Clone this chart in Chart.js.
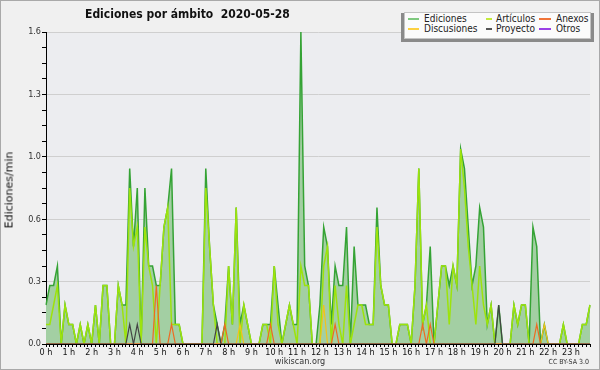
<!DOCTYPE html>
<html>
<head>
<meta charset="utf-8">
<script src="https://cdn.jsdelivr.net/npm/chart.js@4.4.1/dist/chart.umd.min.js"></script>
<style>
  html, body { margin: 0; padding: 0; background: #f0f0f0; }
  #wrap { position: relative; width: 600px; height: 370px; background: #f0f0f0; overflow: hidden;
    font-family: 'DejaVu Sans Condensed', 'DejaVu Sans', sans-serif; color: #222; }
  #grafico { position: absolute; left: 0; top: 0; }
  .marco { position: absolute; left: 0; top: 0; width: 600px; height: 370px; box-sizing: border-box;
    border: 1px solid #a9a9a9; pointer-events: none; }
  .titulo { position: absolute; left: 85px; top: 7px; font-weight: bold; font-size: 12px; line-height: 15px;
    white-space: pre; color: #111; }
  .eje-y { position: absolute; left: 9px; top: 190px; transform: translate(-50%, -50%) rotate(-90deg);
    font-family: 'DejaVu Sans', sans-serif; font-size: 11px; white-space: nowrap; color: #111; }
  .sombra { position: absolute; left: 401px; top: 13px; width: 193px; height: 29px; background: #8a8a8a; }
  .leyenda { position: absolute; left: 404px; top: 12px; width: 187px; height: 27px; background: #fbfbfb;
    border: 1px solid #c4c4c4; box-sizing: border-box; }
  .item { position: absolute; font-size: 10px; line-height: 10px; white-space: nowrap; color: #222; }
  .raya { position: absolute; height: 2px; }
  .pie { position: absolute; font-size: 9px; line-height: 10px; color: #333; white-space: nowrap; }
</style>
</head>
<body>
<div id="wrap">
  <canvas id="grafico" width="600" height="370"></canvas>
  <div class="titulo">Ediciones por ámbito  2020-05-28</div>
  <div class="eje-y">Ediciones/min</div>
  <div class="sombra"></div>
  <div class="leyenda"></div>
  <div class="raya" style="left:408px;top:18px;width:11px;background:#7fc97f"></div>
  <div class="item" style="left:424px;top:13.5px">Ediciones</div>
  <div class="raya" style="left:408px;top:28px;width:11px;background:#fcd040"></div>
  <div class="item" style="left:424px;top:23.5px">Discusiones</div>
  <div class="raya" style="left:486px;top:18px;width:6px;background:#c4ea3c"></div>
  <div class="item" style="left:496px;top:13.5px">Artículos</div>
  <div class="raya" style="left:486px;top:28px;width:6px;background:#555"></div>
  <div class="item" style="left:496px;top:23.5px">Proyecto</div>
  <div class="raya" style="left:539px;top:18px;width:12px;background:#f07438"></div>
  <div class="item" style="left:556px;top:13.5px">Anexos</div>
  <div class="raya" style="left:539px;top:28px;width:12px;background:#9a40e6"></div>
  <div class="item" style="left:556px;top:23.5px">Otros</div>
  <div class="pie" style="left:300px;top:356px;transform:translateX(-50%)">wikiscan.org</div>
  <div class="pie" style="right:11px;top:358px;font-size:7px;line-height:8px">CC BY-SA 3.0</div>
  <div class="marco"></div>
</div>
<script>
// franjas de 10 minutos
const franjas = Array.from({ length: 144 }, (_, i) =>
  String(Math.floor(i / 6)).padStart(2, '0') + ':' + String((i % 6) * 10).padStart(2, '0'))

const marcasY = [0, 0.08, 0.16, 0.24, 0.32, 0.4, 0.48, 0.56, 0.64, 0.72, 0.8,
  0.88, 0.96, 1.04, 1.12, 1.2, 1.28, 1.36, 1.44, 1.52, 1.6]

const ediciones = [
  0.2, 0.3, 0.3, 0.4, 0, 0.2, 0.1, 0.1, 0, 0.1, 0, 0.1,
  0, 0.2, 0, 0.3, 0.3, 0, 0, 0.3, 0.2, 0.2, 0.9, 0.5,
  0.8, 0, 0.8, 0.4, 0.4, 0.3, 0.3, 0.6, 0.7, 0.9, 0.1, 0.1,
  0, 0, 0, 0, 0, 0, 0.9, 0.5, 0.2, 0.1, 0, 0.1,
  0.4, 0.1, 0.7, 0.1, 0.2, 0.1, 0, 0, 0, 0.1, 0.1, 0.1,
  0.4, 0.2, 0, 0.1, 0.2, 0.1, 0.1, 1.6, 0.4, 0.3, 0, 0,
  0.2, 0.6, 0.5, 0.1, 0.4, 0.3, 0.3, 0.6, 0, 0.5, 0.2, 0.2,
  0.2, 0.1, 0.1, 0.7, 0.3, 0.2, 0.2, 0, 0, 0.1, 0.1, 0.1,
  0, 0.3, 0.9, 0.1, 0.2, 0.5, 0, 0.2, 0.4, 0.4, 0.3, 0.4,
  0.3, 1.0, 0.9, 0.6, 0.3, 0.4, 0.7, 0.6, 0.1, 0.2, 0, 0.2,
  0, 0, 0, 0.2, 0.1, 0.2, 0.2, 0, 0.6, 0.5, 0, 0.1,
  0, 0, 0, 0, 0.1, 0, 0, 0, 0, 0.1, 0.1, 0.2
]

const articulos = [
  0.1, 0.1, 0.2, 0.3, 0, 0.2, 0.1, 0.1, 0, 0.1, 0, 0.1,
  0, 0.2, 0, 0.3, 0.3, 0, 0, 0.3, 0.2, 0, 0.8, 0.5,
  0.6, 0, 0.6, 0.4, 0.3, 0, 0.3, 0.6, 0.7, 0.1, 0.1, 0.1,
  0, 0, 0, 0, 0, 0, 0.8, 0.5, 0.2, 0, 0, 0,
  0.4, 0.1, 0.7, 0, 0.2, 0.1, 0, 0, 0, 0.1, 0.1, 0,
  0.4, 0.1, 0, 0.1, 0.2, 0.1, 0, 0.4, 0.3, 0.3, 0, 0,
  0, 0.4, 0.5, 0, 0.3, 0.1, 0, 0.3, 0, 0.1, 0.2, 0.2,
  0.1, 0.1, 0.1, 0.6, 0.3, 0.2, 0.2, 0, 0, 0.1, 0.1, 0.1,
  0, 0.3, 0.9, 0.1, 0.2, 0, 0, 0.2, 0.4, 0.4, 0.1, 0.4,
  0.3, 1.0, 0.8, 0.5, 0.3, 0.1, 0.4, 0.2, 0.1, 0.2, 0, 0,
  0, 0, 0, 0.2, 0.1, 0.2, 0.2, 0, 0, 0, 0, 0,
  0, 0, 0, 0, 0.1, 0, 0, 0, 0, 0.1, 0.1, 0.2
]

const anexos = [
  0, 0, 0, 0, 0, 0, 0, 0, 0, 0, 0, 0,
  0, 0, 0, 0, 0, 0, 0, 0, 0, 0, 0, 0,
  0, 0, 0, 0, 0, 0.3, 0, 0, 0, 0.1, 0, 0,
  0, 0, 0, 0, 0, 0, 0, 0, 0, 0, 0, 0.1,
  0, 0, 0, 0, 0, 0, 0, 0, 0, 0, 0, 0.1,
  0, 0, 0, 0, 0, 0, 0, 0, 0, 0, 0, 0,
  0, 0, 0, 0, 0.1, 0, 0, 0, 0, 0, 0, 0,
  0, 0, 0, 0, 0, 0, 0, 0, 0, 0, 0, 0,
  0, 0, 0, 0.1, 0, 0.1, 0, 0, 0, 0, 0, 0,
  0, 0, 0, 0, 0, 0, 0, 0, 0, 0, 0, 0,
  0, 0, 0, 0, 0, 0, 0, 0, 0, 0.1, 0, 0,
  0, 0, 0, 0, 0, 0, 0, 0, 0, 0, 0, 0
]

const discusiones = [
  0, 0, 0, 0, 0, 0, 0, 0, 0, 0, 0, 0,
  0, 0, 0, 0, 0, 0, 0, 0, 0, 0, 0, 0,
  0, 0, 0, 0, 0, 0, 0, 0, 0, 0, 0, 0,
  0, 0, 0, 0, 0, 0, 0, 0, 0, 0, 0, 0,
  0, 0, 0, 0.1, 0, 0, 0, 0, 0, 0, 0, 0,
  0, 0, 0, 0, 0, 0, 0, 0, 0, 0, 0, 0,
  0, 0.2, 0, 0, 0, 0, 0, 0, 0, 0, 0, 0,
  0, 0, 0, 0, 0, 0, 0, 0, 0, 0, 0, 0,
  0, 0, 0, 0, 0, 0, 0, 0, 0, 0, 0, 0,
  0, 0, 0, 0, 0, 0, 0, 0, 0, 0, 0, 0,
  0, 0, 0, 0, 0, 0, 0, 0, 0, 0, 0, 0.1,
  0, 0, 0, 0, 0, 0, 0, 0, 0, 0, 0, 0
]

const proyecto = [
  0, 0, 0, 0, 0, 0, 0, 0, 0, 0, 0, 0,
  0, 0, 0, 0, 0, 0, 0, 0, 0, 0, 0.1, 0,
  0.1, 0, 0, 0, 0, 0, 0, 0, 0, 0, 0, 0,
  0, 0, 0, 0, 0, 0, 0, 0, 0, 0.1, 0, 0,
  0, 0, 0, 0, 0, 0, 0, 0, 0, 0, 0, 0,
  0, 0, 0, 0, 0, 0, 0, 0, 0, 0, 0, 0,
  0, 0, 0, 0, 0, 0, 0, 0, 0, 0, 0, 0,
  0, 0, 0, 0, 0, 0, 0, 0, 0, 0, 0, 0,
  0, 0, 0, 0, 0, 0, 0, 0, 0, 0, 0, 0,
  0, 0, 0, 0, 0, 0, 0, 0, 0, 0, 0, 0.2,
  0, 0, 0, 0, 0, 0, 0, 0, 0, 0, 0, 0,
  0, 0, 0, 0, 0, 0, 0, 0, 0, 0, 0, 0
]

const otros = [
  0, 0, 0, 0, 0, 0, 0, 0, 0, 0, 0, 0,
  0, 0, 0, 0, 0, 0, 0, 0, 0, 0, 0, 0,
  0, 0, 0, 0, 0, 0, 0, 0, 0, 0, 0, 0,
  0, 0, 0, 0, 0, 0, 0, 0, 0, 0, 0, 0,
  0, 0, 0, 0, 0, 0, 0, 0, 0, 0, 0, 0,
  0, 0, 0, 0, 0, 0, 0, 0, 0, 0, 0, 0,
  0, 0, 0, 0, 0, 0, 0, 0, 0, 0, 0, 0,
  0, 0, 0, 0, 0, 0, 0, 0, 0, 0, 0, 0,
  0, 0, 0, 0, 0, 0, 0, 0, 0, 0, 0, 0,
  0, 0, 0, 0, 0, 0, 0, 0, 0, 0, 0, 0,
  0, 0, 0, 0, 0, 0, 0, 0, 0, 0, 0, 0,
  0, 0, 0, 0, 0, 0, 0, 0, 0, 0, 0, 0
]

// fondo del area de trazado
const fondoArea = {
  id: 'fondoArea',
  beforeDraw(chart) {
    const { ctx, chartArea: a } = chart
    ctx.save()
    ctx.fillStyle = '#ecedf0'
    ctx.fillRect(a.left, a.top, a.right - a.left, a.bottom - a.top)
    ctx.restore()
  }
}

const fuente = { family: 'DejaVu Sans Condensed', size: 9 }

new Chart(document.getElementById('grafico'), {
  type: 'line',
  data: {
    labels: franjas,
    datasets: [
      { label: 'Ediciones', data: ediciones, borderColor: '#35a335', backgroundColor: '#a3cfa3', fill: 'origin', borderWidth: 1.5, order: 6 },
      { label: 'Artículos', data: articulos, borderColor: '#9de30c', borderWidth: 1.5, fill: false, order: 5 },
      { label: 'Anexos', data: anexos, borderColor: '#ee6a22', fill: false, order: 2 },
      { label: 'Discusiones', data: discusiones, borderColor: '#f3c21a', fill: false, order: 3 },
      { label: 'Proyecto', data: proyecto, borderColor: '#444444', fill: false, order: 1 },
      { label: 'Otros', data: otros, borderColor: '#9b45e6', fill: false, order: 4 }
    ]
  },
  options: {
    responsive: false,
    animation: false,
    devicePixelRatio: 1,
    layout: { padding: { left: 0, top: 32, right: 10, bottom: 0 } },
    elements: { point: { radius: 0 }, line: { tension: 0, borderWidth: 1.2 } },
    plugins: { legend: { display: false }, tooltip: { enabled: false } },
    scales: {
      x: {
        z: 1,
        grid: { drawOnChartArea: false, drawTicks: true, tickLength: 3, color: '#000', tickColor: '#000' },
        border: { color: '#000', width: 1 },
        ticks: {
          autoSkip: false, maxRotation: 0, minRotation: 0, padding: 0, color: '#111', font: fuente,
          callback: (v, i) => i % 6 === 0 ? (i / 6) + ' h' : ''
        },
        afterFit: s => { s.height = 26 }
      },
      y: {
        min: 0,
        max: 1.6,
        afterBuildTicks: s => { s.ticks = marcasY.map(v => ({ value: v })) },
        grid: {
          color: c => (c.index % 4 === 0 && c.index > 0) ? '#cfcfcf' : 'rgba(0,0,0,0)',
          tickColor: '#000', tickLength: 4, drawTicks: true
        },
        border: { color: '#000', width: 1 },
        ticks: {
          padding: 1, color: '#333', font: fuente,
          callback: (v, i) => i % 4 === 0 ? Number(v).toFixed(1) : ''
        },
        afterFit: s => { s.width = 46 }
      }
    }
  },
  plugins: [fondoArea]
})
</script>
</body>
</html>
